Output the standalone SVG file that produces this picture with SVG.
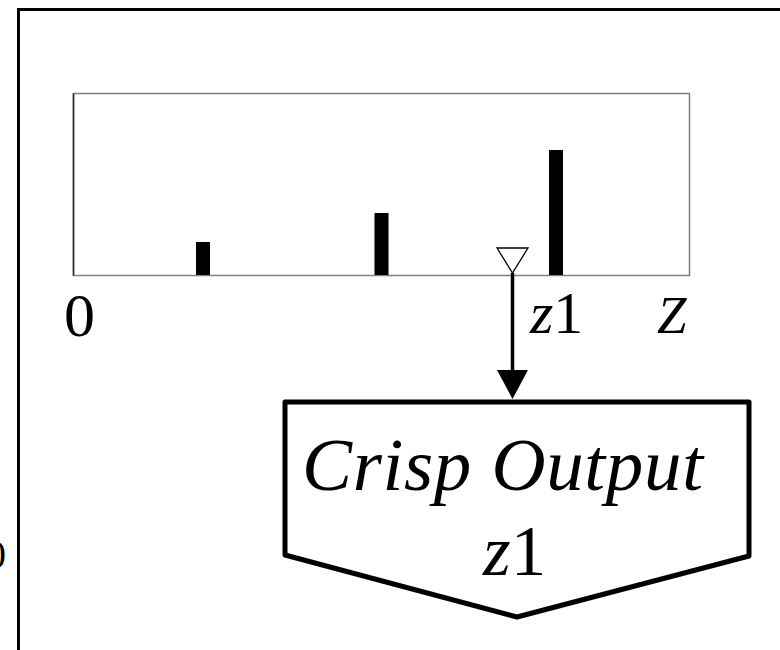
<svg xmlns="http://www.w3.org/2000/svg" width="780" height="650" viewBox="0 0 780 650">
  <style>
    text { font-family: "Liberation Serif", "Times New Roman", Times, serif; fill: #000; }
    .it { font-style: italic; }
    .frame { fill: none; stroke: #000; stroke-width: 3; }
    .plot { fill: none; stroke: #808080; stroke-width: 1.5; }
    .bar { fill: #000; }
  </style>

  <rect width="780" height="650" fill="#fff"/>

  <!-- outer frame -->
  <path class="frame" d="M18.5,650 L18.5,9.5 L780,9.5"/>
  <text x="-14" y="568" font-size="40">0</text>

  <!-- output domain with singleton bars -->
  <g id="domain">
    <rect class="plot" x="73.5" y="93.5" width="616" height="182"/>
    <line x1="73.5" y1="93.5" x2="73.5" y2="275.5" stroke="#222" stroke-width="1.5"/>
    <rect class="bar" x="196" y="242" width="14" height="33"/>
    <rect class="bar" x="374.5" y="213" width="14" height="62"/>
    <rect class="bar" x="549" y="150" width="14" height="125"/>
    <text x="64" y="336" font-size="62">0</text>
    <text class="it" x="657" y="333" font-size="53">Z</text>
  </g>

  <!-- defuzzified position marker -->
  <g id="marker">
    <path d="M497,248 L528,248 L512.5,273 Z" fill="#fff" stroke="#000" stroke-width="1.3"/>
  </g>

  <g id="connectors">
    <line x1="512.5" y1="273" x2="512.5" y2="380" stroke="#000" stroke-width="3.5"/>
    <path d="M497,370 L528,370 L512.5,399 Z" fill="#000"/>
    <text x="530" y="333" font-size="60"><tspan class="it">z</tspan>1</text>
  </g>

  <!-- crisp output node -->
  <g id="crisp-output">
    <path d="M285,402 L749,402 L749,556 L517,617 L285,555 Z" fill="#fff" stroke="#000" stroke-width="5" stroke-linejoin="round"/>
    <text class="it" x="302" y="490" font-size="75" textLength="401" lengthAdjust="spacing">Crisp Output</text>
    <text x="483" y="575" font-size="71"><tspan class="it">z</tspan>1</text>
  </g>
</svg>
